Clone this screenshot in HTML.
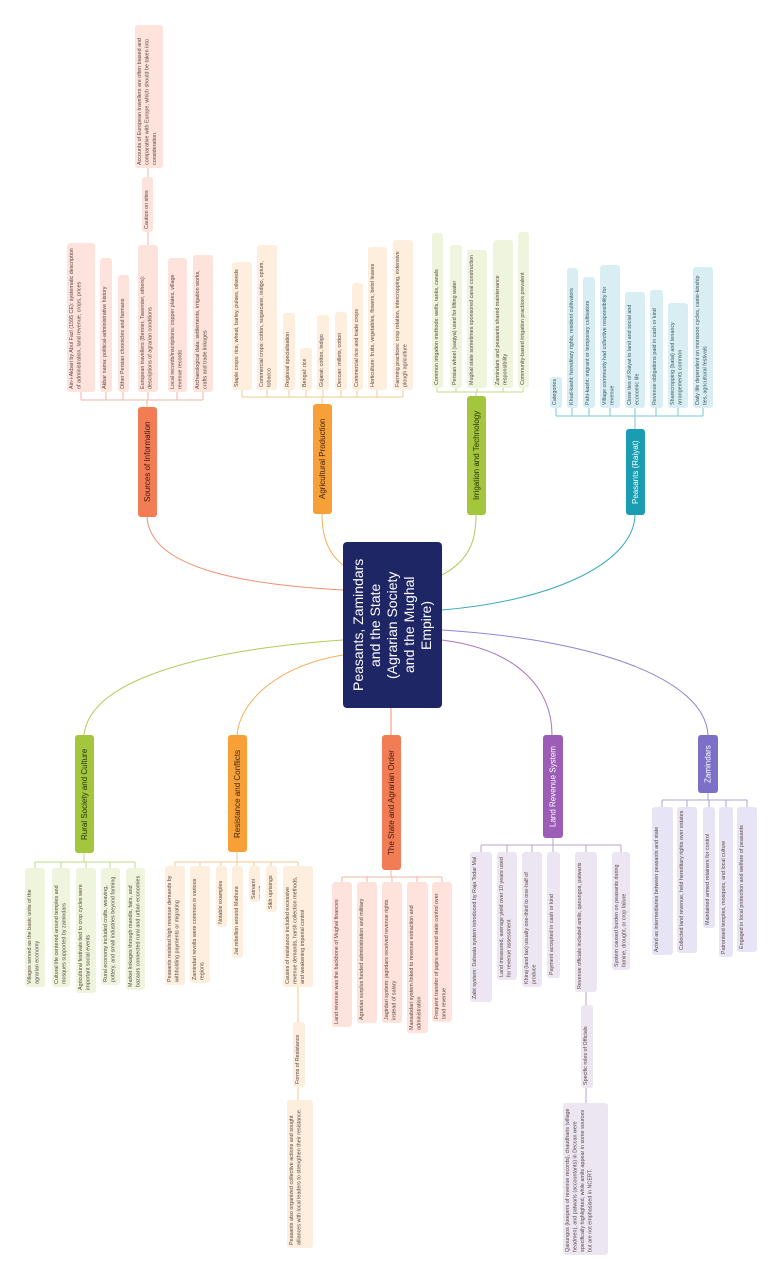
<!DOCTYPE html>
<html><head><meta charset="utf-8">
<style>
html,body{margin:0;padding:0;background:#fff;}
body{width:783px;height:1280px;position:relative;overflow:hidden;font-family:"Liberation Sans",sans-serif;}
svg{position:absolute;left:0;top:0;}
.l,.n,.c{position:absolute;box-sizing:border-box;writing-mode:vertical-rl;transform:rotate(180deg);overflow:hidden;}
.l{font-size:5.4px;line-height:7.5px;padding:3px 2px;border-radius:3px;color:#5a4a44;text-align:left;}
.n{font-size:8px;display:flex;align-items:center;justify-content:center;border-radius:3px;white-space:nowrap;}
.c{left:343px;top:542px;width:99px;height:166px;background:#1f2666;color:#fff;font-size:14px;line-height:17px;display:flex;align-items:center;justify-content:center;text-align:center;border-radius:4px;white-space:nowrap;}
.s{background:#fde3dc;} .a{background:#fdeedd;} .g{background:#eef5dc;} .p{background:#d8eef3;color:#3d5a63;}
.v{background:#ece6f2;} .z{background:#e7e5f5;}
</style></head><body>
<svg width="783" height="1280" fill="none" stroke-width="1">
<path d="M343 590 C250 585 150 570 147 517" stroke="#f0906e"/>
<path d="M343 565 C330 555 322 540 322 513" stroke="#f5b05a"/>
<path d="M442 575 C470 560 476 540 476 515" stroke="#aecb5a"/>
<path d="M442 610 C560 600 635 560 635 514" stroke="#3aaabb"/>
<path d="M343 640 C200 650 90 680 84 735" stroke="#aecb5a"/>
<path d="M343 655 C280 665 240 700 237 735" stroke="#f5b05a"/>
<path d="M391 708 L391 735" stroke="#f0906e"/>
<path d="M442 640 C520 650 552 690 552 735" stroke="#a877c0"/>
<path d="M442 630 C600 640 705 680 708 735" stroke="#8d83d0"/>
<g stroke="#f2b4a0"><path d="M81 400 H203 M147 400 V407 M81 392V400 M106 392V400 M123 392V400 M148 392V400 M177 392V400 M203 392V400 M148 232V245 M148 168V177"/></g>
<g stroke="#f5c98f"><path d="M242 397 H403 M322 397V404 M242 390V397 M267 390V397 M289 390V397 M306 390V397 M323 390V397 M341 390V397 M357 390V397 M377 390V397 M403 390V397"/></g>
<g stroke="#c0d88a"><path d="M437 392 H523 M476 392V396 M437 388V392 M456 388V392 M477 388V392 M503 388V392 M523 388V392"/></g>
<g stroke="#7ec6d3"><path d="M556 416 H703 M635 416V429 M556 408V416 M572 408V416 M589 408V416 M610 408V416 M635 408V416 M656 408V416 M678 408V416 M703 408V416"/></g>
<g stroke="#c0d88a"><path d="M35 862 H135 M84 853V862 M35 862V868 M61 862V868 M86 862V868 M110 862V868 M135 862V868"/></g>
<g stroke="#f5c98f"><path d="M175 862 H298 M237 852V862 M175 862V866 M200 862V866 M221 862V866 M237 862V866 M254 862V866 M271 862V866 M298 862V866 M298 987V1022 M298 1087V1100"/></g>
<g stroke="#f2b4a0"><path d="M342 877 H442 M391 870V877 M342 877V882 M367 877V882 M392 877V882 M417 877V882 M442 877V882"/></g>
<g stroke="#b9a2cc"><path d="M481 845 H621 M553 838V845 M481 845V852 M507 845V852 M532 845V852 M553 845V852 M586 845V852 M621 845V852 M586 992V1005 M586 1088V1103"/></g>
<g stroke="#aaa4da"><path d="M662 800 H747 M708 793V800 M662 800V807 M687 800V807 M709 800V807 M726 800V807 M747 800V807"/></g>
</svg>

<div class="c">Peasants, Zamindars<br>and the State<br>(Agrarian Society<br>and the Mughal<br>Empire)</div>

<div class="n" style="left:138px;top:407px;width:19px;height:110px;background:#f27d55;color:#3a1a10">Sources of Information</div>
<div class="n" style="left:313px;top:404px;width:19px;height:110px;background:#f7a037;color:#3a2410">Agricultural Production</div>
<div class="n" style="left:467px;top:396px;width:19px;height:119px;background:#a4c63c;color:#26300a">Irrigation and Technology</div>
<div class="n" style="left:626px;top:429px;width:19px;height:86px;background:#1a9cb2;color:#fff">Peasants (Raiyat)</div>
<div class="n" style="left:75px;top:735px;width:19px;height:118px;background:#a4c63c;color:#26300a">Rural Society and Culture</div>
<div class="n" style="left:228px;top:735px;width:19px;height:117px;background:#f7a037;color:#3a2410">Resistance and Conflicts</div>
<div class="n" style="left:382px;top:735px;width:19px;height:135px;background:#f27d55;color:#3a1a10">The State and Agrarian Order</div>
<div class="n" style="left:543px;top:735px;width:20px;height:103px;background:#9c5db6;color:#fff">Land Revenue System</div>
<div class="n" style="left:698px;top:735px;width:20px;height:58px;background:#7b6fc8;color:#fff">Zamindars</div>

<div class="l s" style="left:67px;top:243px;width:28px;height:149px">Ain-i-Akbari by Abul Fazl (1595 CE): systematic description of administration, land revenue, crops, prices</div>
<div class="l s" style="left:100px;top:258px;width:12px;height:134px">Akbar nama: political-administrative history</div>
<div class="l s" style="left:118px;top:275px;width:11px;height:117px">Other Persian chronicles and farmans</div>
<div class="l s" style="left:138px;top:245px;width:20px;height:147px">European travellers (Bernier, Tavernier, others): descriptions of agrarian conditions</div>
<div class="l s" style="left:168px;top:258px;width:19px;height:134px">Local records/inscriptions: copper plates, village revenue records</div>
<div class="l s" style="left:193px;top:255px;width:20px;height:137px">Archaeological data: settlements, irrigation works, crafts and trade linkages</div>
<div class="l s" style="left:142px;top:177px;width:11px;height:55px">Caution on sites</div>
<div class="l s" style="left:135px;top:25px;width:28px;height:143px">Accounts of European travellers are often biased and comparative with Europe, which should be taken into consideration.</div>

<div class="l a" style="left:232px;top:262px;width:20px;height:128px">Staple crops: rice, wheat, barley, pulses, oilseeds</div>
<div class="l a" style="left:257px;top:245px;width:20px;height:145px">Commercial crops: cotton, sugarcane, indigo, opium, tobacco</div>
<div class="l a" style="left:283px;top:313px;width:12px;height:77px">Regional specialisation</div>
<div class="l a" style="left:300px;top:348px;width:12px;height:42px">Bengal: rice</div>
<div class="l a" style="left:317px;top:315px;width:12px;height:75px">Gujarat: cotton, indigo</div>
<div class="l a" style="left:335px;top:312px;width:12px;height:78px">Deccan: millets, cotton</div>
<div class="l a" style="left:352px;top:283px;width:11px;height:107px">Commercial rice and trade crops</div>
<div class="l a" style="left:368px;top:247px;width:19px;height:143px">Horticulture: fruits, vegetables, flowers, betel leaves</div>
<div class="l a" style="left:393px;top:240px;width:20px;height:150px">Farming practices: crop rotation, intercropping, extensive plough agriculture</div>

<div class="l g" style="left:432px;top:233px;width:11px;height:155px">Common irrigation methods: wells, tanks, canals</div>
<div class="l g" style="left:450px;top:245px;width:12px;height:143px">Persian wheel (saqiya) used for lifting water</div>
<div class="l g" style="left:467px;top:250px;width:20px;height:138px">Mughal state sometimes sponsored canal construction</div>
<div class="l g" style="left:493px;top:240px;width:20px;height:148px">Zamindars and peasants shared maintenance responsibility</div>
<div class="l g" style="left:518px;top:232px;width:11px;height:156px">Community-based irrigation practices prevalent</div>

<div class="l p" style="left:550px;top:377px;width:12px;height:31px">Categories</div>
<div class="l p" style="left:567px;top:268px;width:11px;height:140px">Khud-kasht: hereditary rights, resident cultivators</div>
<div class="l p" style="left:583px;top:277px;width:12px;height:131px">Pahi-kasht: migrant or temporary cultivators</div>
<div class="l p" style="left:600px;top:265px;width:20px;height:143px">Village community had collective responsibility for revenue</div>
<div class="l p" style="left:625px;top:292px;width:20px;height:116px">Close ties of Raiyat to land and social and economic life</div>
<div class="l p" style="left:650px;top:290px;width:13px;height:118px">Revenue obligations paid in cash or kind</div>
<div class="l p" style="left:668px;top:303px;width:20px;height:105px">Sharecropping (batai) and tenancy arrangements common</div>
<div class="l p" style="left:693px;top:267px;width:20px;height:141px">Daily life dependent on monsoon cycles, caste-kinship ties, agricultural festivals</div>

<div class="l g" style="left:25px;top:868px;width:20px;height:119px">Villages served as the basic units of the agrarian economy</div>
<div class="l g" style="left:52px;top:868px;width:18px;height:119px">Cultural life centered around temples and mosques supported by zamindars</div>
<div class="l g" style="left:76px;top:868px;width:20px;height:125px">Agricultural festivals tied to crop cycles were important social events</div>
<div class="l g" style="left:101px;top:868px;width:19px;height:117px">Rural economy included crafts, weaving, pottery, and small industries beyond farming</div>
<div class="l g" style="left:126px;top:868px;width:19px;height:122px">Market linkages through mandis, fairs, and bazaars connected rural and urban economies</div>

<div class="l a" style="left:165px;top:866px;width:20px;height:119px">Peasants resisted high revenue demands by withholding payments or migrating</div>
<div class="l a" style="left:190px;top:866px;width:20px;height:117px">Zamindari revolts were common in various regions</div>
<div class="l a" style="left:216px;top:866px;width:11px;height:61px">Notable examples</div>
<div class="l a" style="left:232px;top:866px;width:11px;height:92px">Jat rebellion around Mathura</div>
<div class="l a" style="left:249px;top:866px;width:11px;height:36px">Satnami revolt</div>
<div class="l a" style="left:266px;top:866px;width:11px;height:46px">Sikh uprisings</div>
<div class="l a" style="left:283px;top:866px;width:30px;height:121px">Causes of resistance included excessive revenue demands, harsh collection methods, and weakening imperial control</div>
<div class="l a" style="left:293px;top:1022px;width:12px;height:65px">Forms of Resistance</div>
<div class="l a" style="left:287px;top:1100px;width:26px;height:148px">Peasants also organized collective actions and sought alliances with local leaders to strengthen their resistance.</div>

<div class="l s" style="left:332px;top:882px;width:20px;height:145px">Land revenue was the backbone of Mughal finances</div>
<div class="l s" style="left:357px;top:882px;width:20px;height:141px">Agrarian surplus funded administration and military</div>
<div class="l s" style="left:382px;top:882px;width:20px;height:141px">Jagirdari system: jagirdars received revenue rights instead of salary</div>
<div class="l s" style="left:407px;top:882px;width:21px;height:151px">Mansabdari system linked to revenue extraction and administration</div>
<div class="l s" style="left:432px;top:882px;width:20px;height:140px">Frequent transfer of jagirs ensured state control over land revenue</div>

<div class="l v" style="left:470px;top:852px;width:22px;height:150px">Zabt system: Dahsala system introduced by Raja Todar Mal</div>
<div class="l v" style="left:497px;top:852px;width:20px;height:128px">Land measured, average yield over 10 years used for revenue assessment</div>
<div class="l v" style="left:522px;top:852px;width:20px;height:135px">Khiraj (land tax) usually one-third to one-half of produce</div>
<div class="l v" style="left:547px;top:852px;width:13px;height:126px">Payment accepted in cash or kind</div>
<div class="l v" style="left:575px;top:852px;width:22px;height:140px">Revenue officials included amils, qanungos, patwaris</div>
<div class="l v" style="left:612px;top:852px;width:18px;height:118px">System caused burden on peasants during famine, drought, or crop failure</div>
<div class="l v" style="left:581px;top:1005px;width:12px;height:83px">Specific roles of Officials</div>
<div class="l v" style="left:563px;top:1103px;width:45px;height:152px">Qanungos (keepers of revenue records), chaudharis (village headmen), and patwaris (accountants) in Deccan were specifically highlighted, while amils appear in some sources but are not emphasised in NCERT.</div>

<div class="l z" style="left:652px;top:807px;width:21px;height:148px">Acted as intermediaries between peasants and state</div>
<div class="l z" style="left:677px;top:807px;width:20px;height:146px">Collected land revenue, held hereditary rights over estates</div>
<div class="l z" style="left:703px;top:807px;width:12px;height:121px">Maintained armed retainers for control</div>
<div class="l z" style="left:719px;top:807px;width:14px;height:150px">Patronised temples, mosques, and local culture</div>
<div class="l z" style="left:737px;top:807px;width:20px;height:145px">Engaged in local protection and welfare of peasants</div>
</body></html>
